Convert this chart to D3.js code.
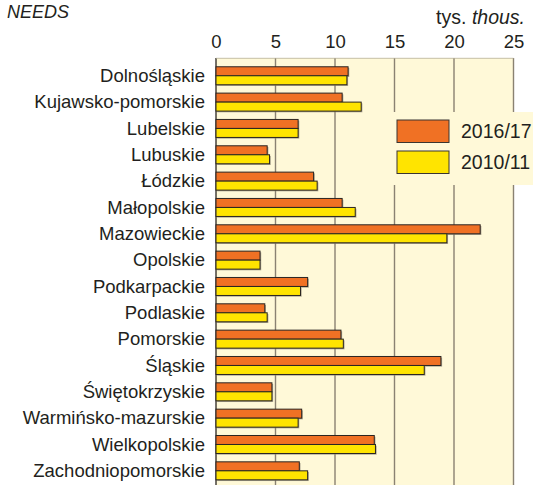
<!DOCTYPE html>
<html>
<head>
<meta charset="utf-8">
<script src="https://cdn.jsdelivr.net/npm/d3@7"></script>
<style>
  html, body { margin: 0; padding: 0; background: #ffffff; }
  svg { display: block; }
  text { font-family: "Liberation Sans", Arial, sans-serif; fill: #231f20; }
</style>
</head>
<body>
<svg id="chart" width="533" height="485"></svg>
<script>
// Voivodeships (regions of Poland)
const regions = [
  "Dolnośląskie", "Kujawsko-pomorskie", "Lubelskie", "Lubuskie", "Łódzkie",
  "Małopolskie", "Mazowieckie", "Opolskie", "Podkarpackie", "Podlaskie",
  "Pomorskie", "Śląskie", "Świętokrzyskie", "Warmińsko-mazurskie",
  "Wielkopolskie", "Zachodniopomorskie"
];
// Values in thousands
const values2016 = [11.1, 10.6, 6.9, 4.3, 8.2, 10.6, 22.2, 3.7, 7.7, 4.1, 10.5, 18.9, 4.7, 7.2, 13.3, 7.0];
const values2010 = [11.0, 12.2, 6.9, 4.5, 8.5, 11.7, 19.4, 3.7, 7.1, 4.3, 10.7, 17.5, 4.7, 6.9, 13.4, 7.7];
const seriesNames = ["2016/17", "2010/11"];
const tickValues = [0, 5, 10, 15, 20, 25];

const svg = d3.select("#chart");
const colors = { "2016/17": "#f07124", "2010/11": "#ffe400" };
const cream = "#fff9d8";

const x = d3.scaleLinear().domain([0, 25]).range([216, 513.5]);
const y = d3.scaleBand().domain(regions).range([62.6, 484]).paddingInner(0).paddingOuter(0);
const barH = 9;

// Plot background
svg.append("rect")
  .attr("x", x(0)).attr("y", 58)
  .attr("width", x(25) - x(0)).attr("height", 485 - 58)
  .attr("fill", cream);

// Tick labels along the top
const axis = d3.axisTop(x).tickValues(tickValues).tickSize(0).tickPadding(0);
const gAxis = svg.append("g").attr("transform", "translate(0,48)").call(axis);
gAxis.select(".domain").remove();
gAxis.selectAll("text")
  .attr("font-size", "18.5px")
  .attr("font-family", "Liberation Sans, Arial, sans-serif")
  .attr("fill", "#231f20")
  .attr("dy", 0);

// Vertical gridlines
svg.append("g").selectAll("line")
  .data(tickValues)
  .join("line")
  .attr("x1", d => x(d)).attr("x2", d => x(d))
  .attr("y1", 58).attr("y2", 485)
  .attr("stroke", d => d === 0 ? "#3a3530" : "#8a8272")
  .attr("stroke-width", 1.4);

// Thin top edge of the plot
svg.append("line")
  .attr("x1", x(0)).attr("x2", x(25))
  .attr("y1", 58.3).attr("y2", 58.3)
  .attr("stroke", "#b8b09a").attr("stroke-width", 0.8);

// Bars
const rows = regions.map((r, i) => ({ region: r, v: [values2016[i], values2010[i]] }));
const center = r => y(r) + y.bandwidth() / 2;

const gBars = svg.append("g");
rows.forEach(row => {
  row.v.forEach((v, k) => {
    const top = k === 0 ? center(row.region) - barH : center(row.region);
    // soft shadow
    gBars.append("rect")
      .attr("x", x(0) + 1.2).attr("y", top + 1.2)
      .attr("width", x(v) - x(0)).attr("height", barH)
      .attr("fill", "#8c8474").attr("opacity", 0.7);
    gBars.append("rect")
      .attr("x", x(0)).attr("y", top)
      .attr("width", x(v) - x(0)).attr("height", barH)
      .attr("fill", colors[seriesNames[k]])
      .attr("stroke", "#2a2522").attr("stroke-width", 1);
  });
});

// Region labels
svg.append("g").selectAll("text")
  .data(regions)
  .join("text")
  .attr("x", 205)
  .attr("y", d => center(d) + 6.3)
  .attr("text-anchor", "end")
  .attr("font-size", "18.5px")
  .text(d => d);

// Legend
const legend = svg.append("g");
legend.append("rect")
  .attr("x", 386).attr("y", 112).attr("width", 147).attr("height", 73)
  .attr("fill", cream);
seriesNames.forEach((s, i) => {
  const ly = 120 + i * 31;
  legend.append("rect")
    .attr("x", 397).attr("y", ly).attr("width", 52).attr("height", 22.5)
    .attr("fill", colors[s]).attr("stroke", "#3a3530").attr("stroke-width", 1);
  legend.append("text")
    .attr("x", 461).attr("y", ly + 17.5)
    .attr("font-size", "19.5px")
    .text(s);
});

// Title and unit
svg.append("text")
  .attr("x", 7).attr("y", 17.5)
  .attr("font-size", "18px").attr("font-style", "italic")
  .text("NEEDS");

const unit = svg.append("text")
  .attr("x", 525).attr("y", 23.5)
  .attr("text-anchor", "end")
  .attr("font-size", "19.5px");
unit.append("tspan").text("tys. ");
unit.append("tspan").attr("font-style", "italic").text("thous.");
</script>
</body>
</html>
